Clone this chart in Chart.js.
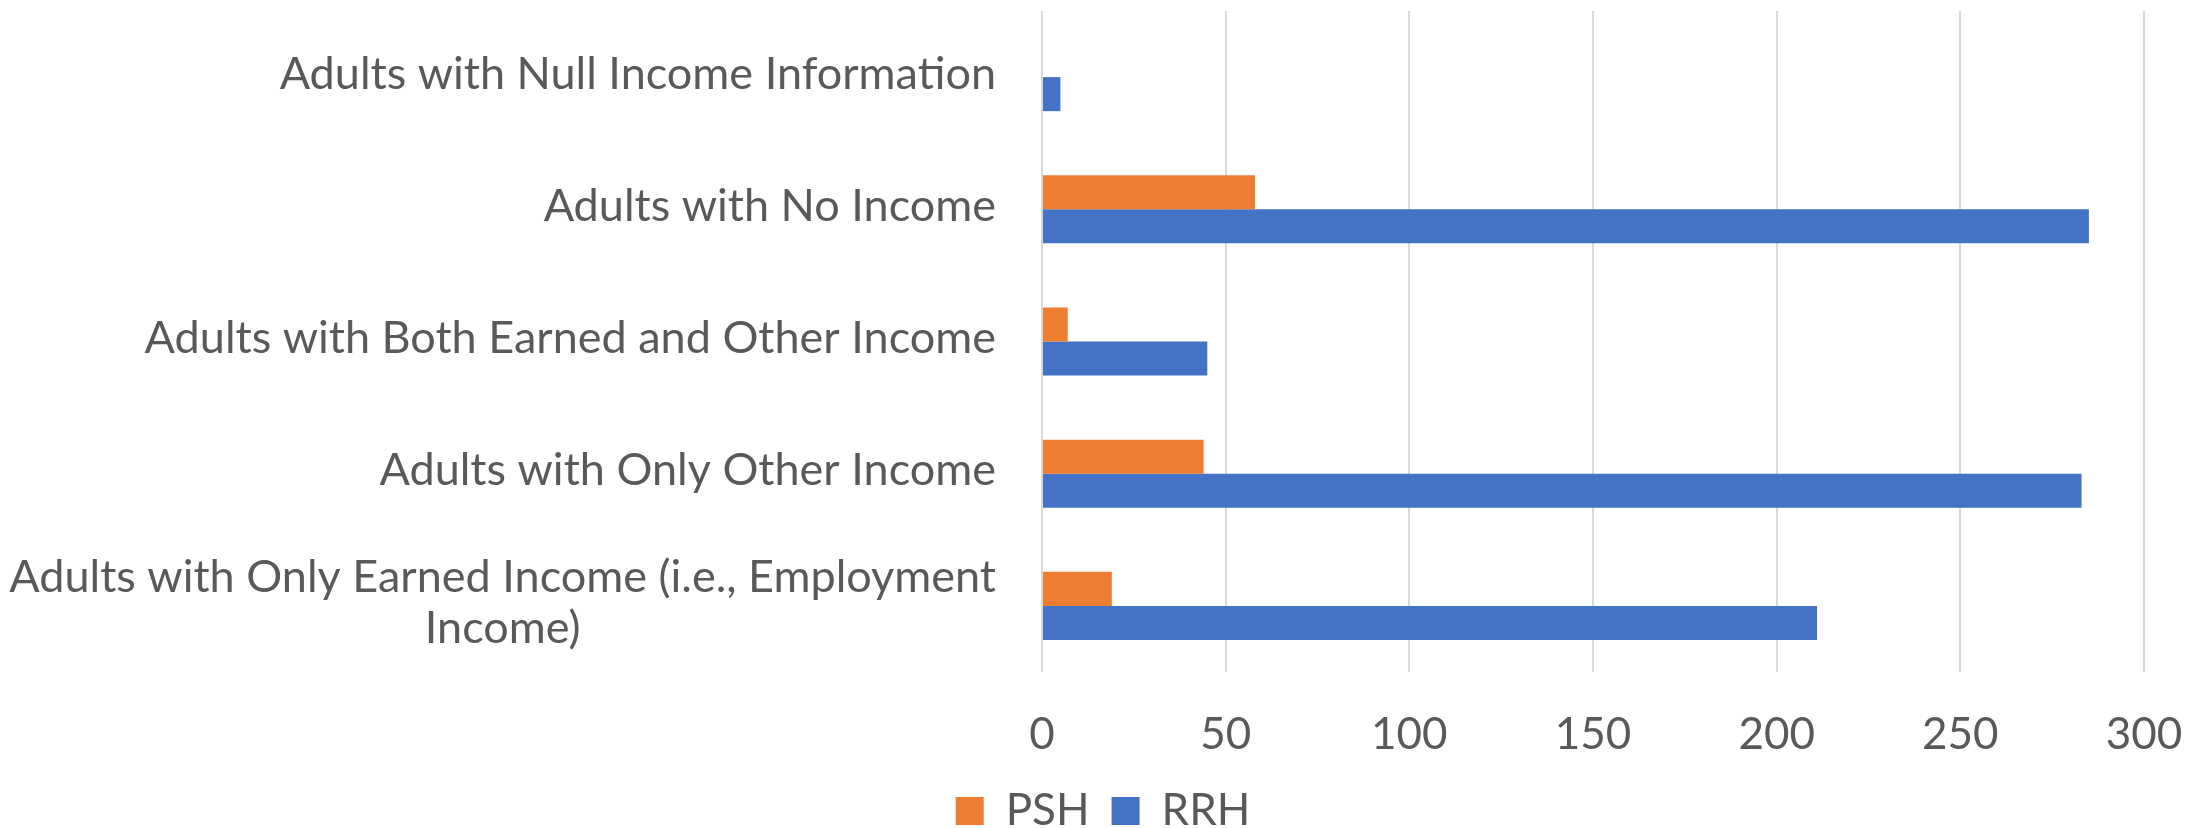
<!DOCTYPE html>
<html>
<head>
<meta charset="utf-8">
<script src="https://cdn.jsdelivr.net/npm/chart.js@4"></script>
<style>
  html, body { margin: 0; padding: 0; background: #ffffff; }
  #wrap { width: 2206px; height: 828px; }
</style>
</head>
<body>
<div id="wrap"><canvas id="c" width="2206" height="828"></canvas></div>
<script>
const categories = [
  "Adults with Null Income Information",
  "Adults with No Income",
  "Adults with Both Earned and Other Income",
  "Adults with Only Other Income",
  ["Adults with Only Earned Income (i.e., Employment", "Income)"]
];
const seriesNames = ["PSH", "RRH"];
const pshValues = [0, 58, 7, 44, 19];
const rrhValues = [5, 285, 45, 283, 211];
const xTicks = [0, 50, 100, 150, 200, 250, 300];

const FONT = "Lato";
const TEXT = "#595959";

const categoryLabelPlugin = {
  id: "categoryLabels",
  afterDraw(chart) {
    const ctx = chart.ctx;
    const y = chart.scales.y;
    const size = 45;
    const lh = size * 1.15;
    const right = 996;
    ctx.save();
    ctx.font = size + "px " + FONT;
    ctx.fillStyle = TEXT;
    ctx.textBaseline = "middle";
    ctx.textAlign = "center";
    chart.data.labels.forEach((lab, i) => {
      const lines = Array.isArray(lab) ? lab : [lab];
      const w = Math.max(...lines.map(l => ctx.measureText(l).width));
      const cx = right - w / 2;
      const cy = y.getPixelForValue(i) - 3;
      lines.forEach((l, j) => {
        ctx.fillText(l, cx, cy + (j - (lines.length - 1) / 2) * lh);
      });
    });
    ctx.restore();
  }
};

function draw() {
  new Chart(document.getElementById("c"), {
    type: "bar",
    data: {
      labels: categories,
      datasets: [
        { label: seriesNames[0], data: pshValues, backgroundColor: "#ED7D31" },
        { label: seriesNames[1], data: rrhValues, backgroundColor: "#4472C4" }
      ]
    },
    options: {
      indexAxis: "y",
      responsive: false,
      devicePixelRatio: 1,
      animation: false,
      categoryPercentage: 0.515,
      barPercentage: 1,
      layout: { padding: { top: 11, right: 0, bottom: -15, left: 0 } },
      plugins: {
        tooltip: { enabled: false },
        legend: {
          position: "bottom",
          labels: {
            color: TEXT,
            font: { family: FONT, size: 44 },
            boxWidth: 28,
            boxHeight: 28,
            padding: 22
          }
        }
      },
      scales: {
        x: {
          min: 0,
          max: 300,
          afterBuildTicks(s) { s.ticks = xTicks.map(v => ({ value: v })); },
          afterFit(s) { s.paddingRight = 62; s.height = 95; },
          grid: { color: "#d9d9d9", lineWidth: 2, drawTicks: false },
          border: { display: false },
          ticks: { color: TEXT, font: { family: FONT, size: 44 }, padding: 36 }
        },
        y: {
          afterFit(s) { s.width = 1042; },
          grid: { display: false },
          border: { display: false },
          ticks: { display: false }
        }
      }
    },
    plugins: [categoryLabelPlugin]
  });
}

if (document.fonts && document.fonts.load) {
  document.fonts.load("44px " + FONT).then(draw, draw);
} else {
  draw();
}
</script>
</body>
</html>
